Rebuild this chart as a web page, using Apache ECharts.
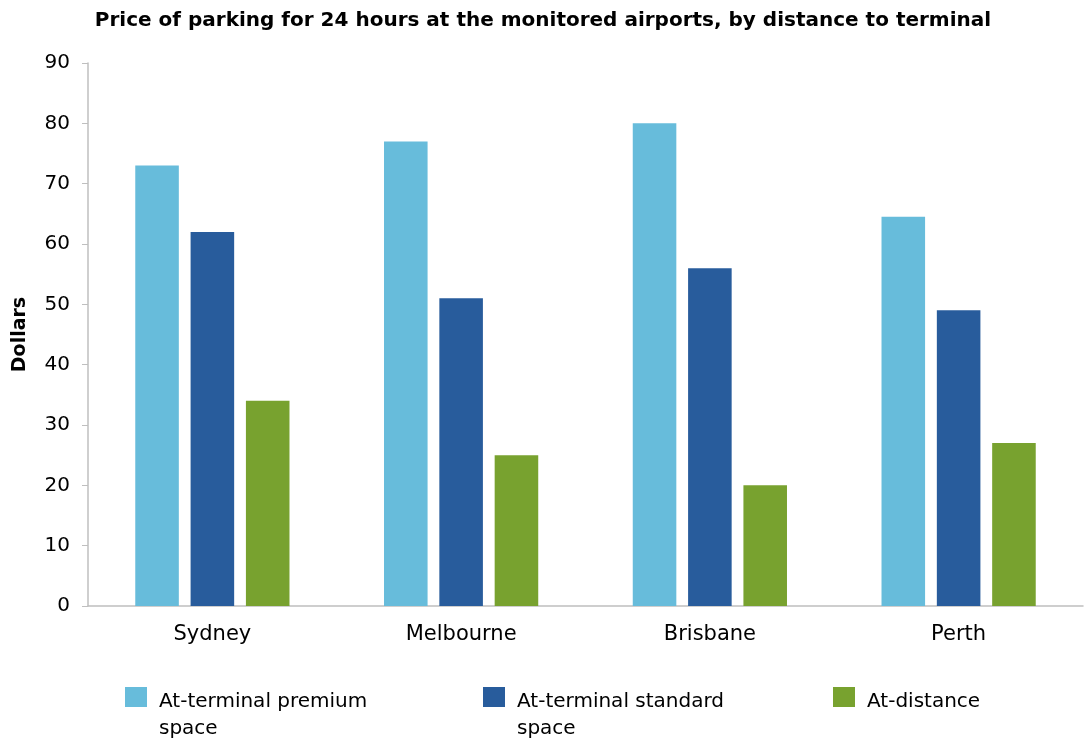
<!DOCTYPE html>
<html>
<head>
<meta charset="utf-8">
<script src="https://cdn.jsdelivr.net/npm/echarts@6/dist/echarts.min.js"></script>
<style>
  html, body { margin: 0; padding: 0; background: #fff; }
  #main { width: 1086px; height: 740px; }
</style>
</head>
<body>
<div id="main"></div>
<script>
// airports
var categories = ['Sydney', 'Melbourne', 'Brisbane', 'Perth'];
// dollars for 24 hours
var premium = [73, 77, 80, 64.5];
var standard = [62, 51, 56, 49];
var atDistance = [34, 25, 20, 27];
var yTicks = [0, 10, 20, 30, 40, 50, 60, 70, 80, 90];

var font = 'DejaVu Sans, Liberation Sans, sans-serif';
var names = ['At-terminal premium\nspace', 'At-terminal standard\nspace', 'At-distance'];
var colors = ['#67bcdb', '#285c9c', '#78a22f'];
var legendLeft = [125, 483, 833];

// square swatch sitting at the top of a taller box, so it lines up with the first text line
function swatch(h) {
    return 'path://M0,0H22V20H0Z M28.9,' + (h - 0.1) + 'H29V' + h + 'H28.9Z';
}

function legendFor(i) {
    var h = i < 2 ? 57 : 30;
    return {
        data: [names[i]],
        left: legendLeft[i],
        top: 687,
        padding: 0,
        icon: swatch(h),
        itemWidth: 29,
        itemHeight: h,
        selectedMode: false,
        textStyle: {
            fontFamily: font,
            fontSize: 20,
            color: '#000',
            lineHeight: 27
        }
    };
}

var chart = echarts.init(document.getElementById('main'), null, { renderer: 'canvas' });
chart.setOption({
    animation: false,
    title: {
        text: 'Price of parking for 24 hours at the monitored airports, by distance to terminal',
        left: 'center',
        top: 11,
        padding: 0,
        textStyle: { fontFamily: font, fontSize: 20, fontWeight: 'bold', color: '#000' }
    },
    legend: [legendFor(0), legendFor(1), legendFor(2)],
    grid: { left: 88, right: 3, top: 63, bottom: 134, containLabel: false },
    xAxis: {
        type: 'category',
        data: categories,
        axisLine: { lineStyle: { color: '#bfbfbf', width: 1.5 } },
        axisTick: { show: false },
        axisLabel: { fontFamily: font, fontSize: 21, color: '#000', margin: 18 }
    },
    yAxis: {
        type: 'value',
        min: yTicks[0],
        max: yTicks[yTicks.length - 1],
        interval: 10,
        name: 'Dollars',
        nameLocation: 'middle',
        nameGap: 58,
        nameTextStyle: { fontFamily: font, fontSize: 19, fontWeight: 'bold', color: '#000' },
        axisLine: { show: true, lineStyle: { color: '#bfbfbf', width: 1.5 } },
        axisTick: { show: true, length: 6, lineStyle: { color: '#bfbfbf' } },
        splitLine: { show: false },
        axisLabel: { fontFamily: font, fontSize: 20, color: '#000', margin: 18 }
    },
    series: [
        { name: names[0], type: 'bar', data: premium, itemStyle: { color: colors[0] }, barGap: '27%', barCategoryGap: '38%' },
        { name: names[1], type: 'bar', data: standard, itemStyle: { color: colors[1] } },
        { name: names[2], type: 'bar', data: atDistance, itemStyle: { color: colors[2] } }
    ]
});
</script>
</body>
</html>
